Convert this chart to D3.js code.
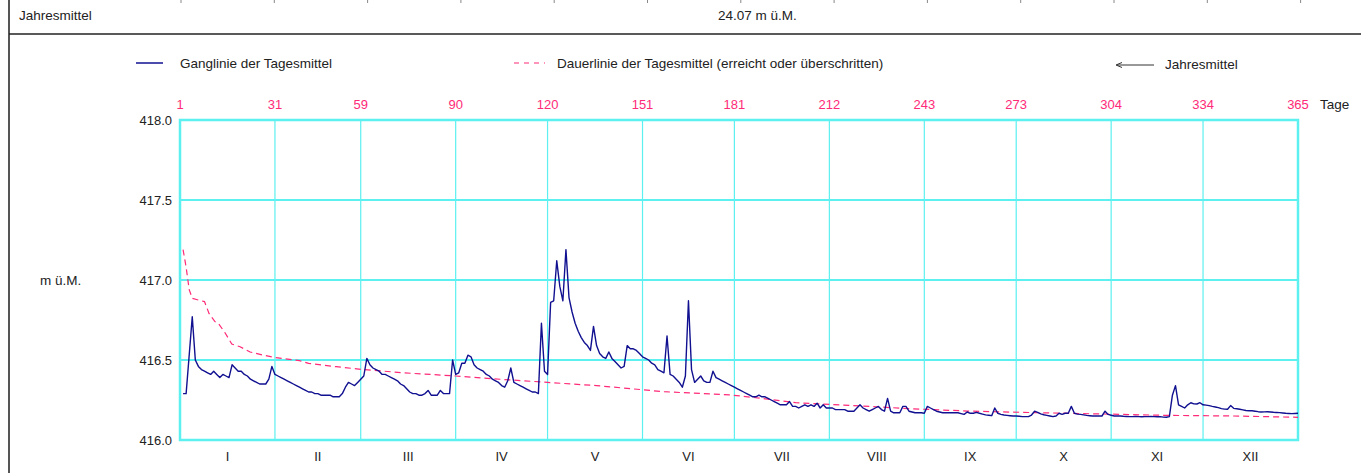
<!DOCTYPE html>
<html>
<head>
<meta charset="utf-8">
<script src="https://cdn.jsdelivr.net/npm/d3@7"></script>
<style>
  body { margin: 0; background: #fff; }
  svg { display: block; font-family: "Liberation Sans", Arial, sans-serif; }
</style>
</head>
<body>
<div id="chart"></div>
<script>
// Tagesmittel (m ü.M.), one row per month
const tagesmittel = [
  // I
  416.29, 416.29, 416.53, 416.77, 416.50, 416.46, 416.44, 416.43, 416.42, 416.41,
  416.43, 416.41, 416.39, 416.41, 416.40, 416.39, 416.47, 416.45, 416.43, 416.43,
  416.41, 416.40, 416.38, 416.37, 416.36, 416.35, 416.35, 416.35, 416.38, 416.46, 416.41,
  // II
  416.40, 416.39, 416.38, 416.37, 416.36, 416.35, 416.34, 416.33, 416.32, 416.31,
  416.30, 416.30, 416.29, 416.29, 416.28, 416.28, 416.28, 416.28, 416.27, 416.27,
  416.27, 416.29, 416.33, 416.36, 416.35, 416.34, 416.36, 416.38,
  // III
  416.40, 416.51, 416.47, 416.45, 416.44, 416.43, 416.41, 416.41, 416.40, 416.39,
  416.38, 416.37, 416.35, 416.34, 416.32, 416.30, 416.29, 416.29, 416.28, 416.28,
  416.29, 416.31, 416.28, 416.28, 416.28, 416.31, 416.29, 416.29, 416.29, 416.50, 416.41,
  // IV
  416.42, 416.48, 416.48, 416.53, 416.52, 416.47, 416.45, 416.44, 416.43, 416.41,
  416.40, 416.38, 416.37, 416.36, 416.34, 416.33, 416.37, 416.45, 416.36, 416.35,
  416.34, 416.33, 416.32, 416.31, 416.30, 416.30, 416.29, 416.73, 416.43, 416.41,
  // V
  416.86, 416.87, 417.12, 416.96, 416.87, 417.19, 416.89, 416.80, 416.73, 416.68,
  416.64, 416.61, 416.59, 416.56, 416.71, 416.59, 416.54, 416.52, 416.51, 416.55,
  416.51, 416.49, 416.47, 416.45, 416.46, 416.59, 416.57, 416.57, 416.56, 416.54, 416.52,
  // VI
  416.51, 416.50, 416.48, 416.47, 416.44, 416.43, 416.42, 416.65, 416.41, 416.40,
  416.38, 416.36, 416.33, 416.40, 416.87, 416.44, 416.36, 416.38, 416.40, 416.37,
  416.36, 416.36, 416.43, 416.39, 416.38, 416.37, 416.36, 416.35, 416.34, 416.33,
  // VII
  416.32, 416.31, 416.30, 416.29, 416.28, 416.27, 416.27, 416.28, 416.27, 416.27,
  416.26, 416.25, 416.24, 416.23, 416.22, 416.22, 416.22, 416.24, 416.21, 416.21,
  416.20, 416.21, 416.22, 416.21, 416.22, 416.21, 416.23, 416.20, 416.22, 416.20, 416.20,
  // VIII
  416.20, 416.19, 416.19, 416.19, 416.19, 416.18, 416.18, 416.18, 416.20, 416.22,
  416.20, 416.19, 416.18, 416.19, 416.20, 416.21, 416.19, 416.18, 416.26, 416.18,
  416.17, 416.17, 416.17, 416.21, 416.21, 416.18, 416.175, 416.17, 416.17, 416.17, 416.167,
  // IX
  416.21, 416.20, 416.19, 416.18, 416.175, 416.17, 416.17, 416.17, 416.17, 416.17,
  416.17, 416.165, 416.16, 416.175, 416.167, 416.167, 416.173, 416.167, 416.162, 416.157,
  416.155, 416.152, 416.20, 416.167, 416.16, 416.156, 416.154, 416.152, 416.15, 416.15,
  // X
  416.148, 416.146, 416.146, 416.146, 416.156, 416.18, 416.173, 416.163, 416.158, 416.154,
  416.15, 416.146, 416.15, 416.167, 416.16, 416.167, 416.167, 416.21, 416.167, 416.162,
  416.16, 416.157, 416.154, 416.152, 416.15, 416.15, 416.15, 416.15, 416.18, 416.16, 416.155,
  // XI
  416.15, 416.15, 416.15, 416.148, 416.147, 416.146, 416.146, 416.147, 416.146, 416.145,
  416.146, 416.146, 416.147, 416.146, 416.145, 416.146, 416.143, 416.142, 416.146, 416.28,
  416.34, 416.22, 416.21, 416.20, 416.22, 416.233, 416.226, 416.225, 416.233, 416.22,
  // XII
  416.218, 416.215, 416.21, 416.206, 416.202, 416.196, 416.193, 416.192, 416.215, 416.198,
  416.195, 416.192, 416.188, 416.184, 416.183, 416.183, 416.18, 416.177, 416.175, 416.176,
  416.177, 416.175, 416.173, 416.172, 416.171, 416.169, 416.167, 416.166, 416.165, 416.166, 416.167
];

// Dauerlinie (read at sample days)
const dauerTage = [1, 2, 3, 4, 6, 8, 9.5, 11.4, 12.5, 14.7, 16.9, 19.6, 22.9, 27.2, 31, 39, 42,
  51, 59, 73, 90, 105, 120, 136, 158, 180, 190, 201, 223, 238, 257, 279, 300, 322, 344, 365];
const dauerWerte = [417.19, 417.08, 416.94, 416.885, 416.875, 416.865, 416.79, 416.74, 416.73,
  416.67, 416.60, 416.583, 416.55, 416.53, 416.516, 416.496, 416.479, 416.458, 416.442, 416.42,
  416.40, 416.379, 416.36, 416.34, 416.302, 416.281, 416.26, 416.233, 416.212, 416.196, 416.181,
  416.171, 416.163, 416.154, 416.15, 416.142];

const monthBounds = [0, 31, 59, 90, 120, 151, 181, 212, 243, 273, 304, 334, 365];
const dayLabels = ["1", "31", "59", "90", "120", "151", "181", "212", "243", "273", "304", "334", "365"];
const monthNames = ["I", "II", "III", "IV", "V", "VI", "VII", "VIII", "IX", "X", "XI", "XII"];
const yTicks = [416.0, 416.5, 417.0, 417.5, 418.0];
const jahresmittelText = "24.07 m ü.M.";

// setting
const width = 1361, height = 473;
const plotLeft = 180, plotRight = 1298, plotTop = 120, plotBottom = 440;
const cyan = "#5cf0f0", pink = "#ff2a78", navy = "#101090", ink = "#222";

const svg = d3.select("#chart").append("svg")
  .attr("width", width)
  .attr("height", height);

const x = d3.scaleLinear().domain([0, 365]).range([plotLeft, plotRight]);
const y = d3.scaleLinear().domain([416, 418]).range([plotBottom, plotTop]);

///* Header frame *///
svg.append("line")
  .attr("x1", 9).attr("x2", 9).attr("y1", 0).attr("y2", height)
  .attr("stroke", "#555").attr("stroke-width", 2);
svg.append("line")
  .attr("x1", 9).attr("x2", width).attr("y1", 34).attr("y2", 34)
  .attr("stroke", "#222").attr("stroke-width", 1.5);
svg.selectAll(".topTick")
  .data(d3.range(13))
  .enter().append("line")
  .attr("class", "topTick")
  .attr("x1", d => 181 + d * 93.3).attr("x2", d => 181 + d * 93.3)
  .attr("y1", 0).attr("y2", 3)
  .attr("stroke", "#888").attr("stroke-width", 1);

svg.append("text")
  .attr("x", 19).attr("y", 20)
  .style("font-size", "13.5px").attr("fill", ink)
  .text("Jahresmittel");
svg.append("text")
  .attr("x", 718).attr("y", 20)
  .style("font-size", "13.5px").attr("fill", ink)
  .text(jahresmittelText);

///* Legend *///
const legendY = 63;
svg.append("line")
  .attr("x1", 136).attr("x2", 163).attr("y1", legendY).attr("y2", legendY)
  .attr("stroke", navy).attr("stroke-width", 1.5);
svg.append("text")
  .attr("x", 180).attr("y", legendY + 5)
  .style("font-size", "13.5px").attr("fill", ink)
  .text("Ganglinie der Tagesmittel");
svg.append("line")
  .attr("x1", 514).attr("x2", 545).attr("y1", legendY).attr("y2", legendY)
  .attr("stroke", pink).attr("stroke-width", 1.2)
  .attr("stroke-dasharray", "5,5");
svg.append("text")
  .attr("x", 557).attr("y", legendY + 5)
  .style("font-size", "13.5px").attr("fill", ink)
  .text("Dauerlinie der Tagesmittel (erreicht oder überschritten)");
svg.append("line")
  .attr("x1", 1117).attr("x2", 1154).attr("y1", legendY + 2).attr("y2", legendY + 2)
  .attr("stroke", "#333").attr("stroke-width", 1);
svg.append("path")
  .attr("d", `M1122,${legendY - 0.5} L1116,${legendY + 2} L1122,${legendY + 4.5}`)
  .attr("fill", "none").attr("stroke", "#333").attr("stroke-width", 1);
svg.append("text")
  .attr("x", 1165).attr("y", legendY + 6)
  .style("font-size", "13.5px").attr("fill", ink)
  .text("Jahresmittel");

///* Grid *///
svg.selectAll(".vgrid")
  .data(monthBounds.slice(1, -1))
  .enter().append("line")
  .attr("class", "vgrid")
  .attr("x1", d => x(d)).attr("x2", d => x(d))
  .attr("y1", plotTop).attr("y2", plotBottom)
  .attr("stroke", cyan).attr("stroke-width", 1.2);
svg.selectAll(".hgrid")
  .data(yTicks.slice(1, -1))
  .enter().append("line")
  .attr("class", "hgrid")
  .attr("x1", plotLeft).attr("x2", plotRight)
  .attr("y1", d => y(d)).attr("y2", d => y(d))
  .attr("stroke", cyan).attr("stroke-width", 2);
svg.append("rect")
  .attr("x", plotLeft).attr("y", plotTop)
  .attr("width", plotRight - plotLeft).attr("height", plotBottom - plotTop)
  .attr("fill", "none").attr("stroke", cyan).attr("stroke-width", 2.5);

///* Labels *///
svg.selectAll(".dayLabel")
  .data(monthBounds)
  .enter().append("text")
  .attr("class", "dayLabel")
  .attr("x", d => x(d)).attr("y", 109)
  .style("text-anchor", "middle").style("font-size", "13px")
  .attr("fill", pink)
  .text((d, i) => dayLabels[i]);
svg.append("text")
  .attr("x", 1320).attr("y", 109)
  .style("font-size", "13.5px").attr("fill", ink)
  .text("Tage");

svg.selectAll(".yLabel")
  .data(yTicks)
  .enter().append("text")
  .attr("class", "yLabel")
  .attr("x", 172).attr("y", d => y(d) + 4.5)
  .style("text-anchor", "end").style("font-size", "13px")
  .attr("fill", ink)
  .text(d => d3.format(".1f")(d));
svg.append("text")
  .attr("x", 40).attr("y", y(417) + 4.5)
  .style("font-size", "13.5px").attr("fill", ink)
  .text("m ü.M.");

svg.selectAll(".monthLabel")
  .data(monthNames)
  .enter().append("text")
  .attr("class", "monthLabel")
  .attr("x", (d, i) => x((monthBounds[i] + monthBounds[i + 1]) / 2))
  .attr("y", 461)
  .style("text-anchor", "middle").style("font-size", "13px")
  .attr("fill", ink)
  .text(d => d);

///* Lines *///
const dauerLine = d3.line()
  .x((d, i) => x(dauerTage[i]))
  .y(d => y(d));
svg.append("path")
  .datum(dauerWerte)
  .attr("d", dauerLine)
  .attr("fill", "none")
  .attr("stroke", pink).attr("stroke-width", 1.2)
  .attr("stroke-dasharray", "6,4");

const gangLine = d3.line()
  .x((d, i) => x(i + 1))
  .y(d => y(d));
svg.append("path")
  .datum(tagesmittel)
  .attr("d", gangLine)
  .attr("fill", "none")
  .attr("stroke", navy).attr("stroke-width", 1.4)
  .attr("stroke-linejoin", "round");
</script>
</body>
</html>
